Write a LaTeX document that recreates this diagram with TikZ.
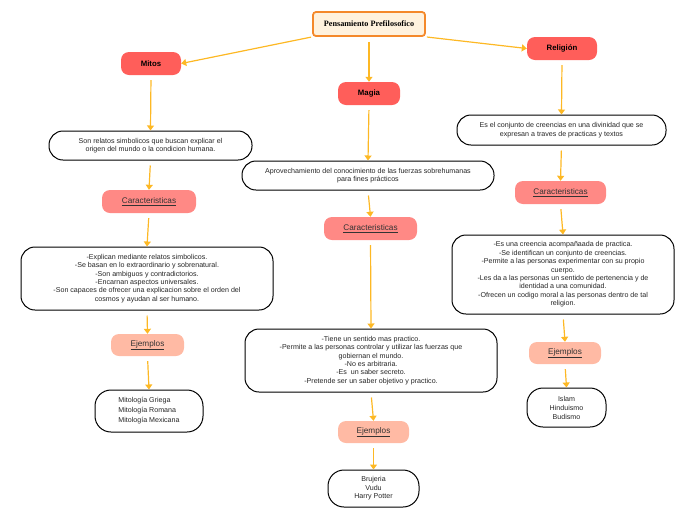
\documentclass[tikz,border=0pt]{standalone}
\usepackage{fontspec}
\setmainfont{Liberation Sans}
\newfontfamily\titlefont{Liberation Serif}
\usetikzlibrary{arrows.meta}

\definecolor{titlefill}{HTML}{FFF2DE}
\definecolor{titledraw}{HTML}{F4892B}
\definecolor{headred}{HTML}{FF5E5A}
\definecolor{caracred}{HTML}{FF8985}
\definecolor{ejempeach}{HTML}{FFBAA4}
\definecolor{linkgold}{HTML}{FDB824}

\begin{document}
\begin{tikzpicture}[x=1pt, y=-1pt,
  % main title box
  titlebox/.style={
    draw=titledraw, line width=1.8pt, fill=titlefill,
    rounded corners=3pt, minimum width=112pt, minimum height=24pt,
    inner sep=0pt, font=\titlefont\bfseries\fontsize{8.2}{9}\selectfont
  },
  % the three branches
  branch/.style={
    fill=headred, rounded corners=8pt, minimum height=23pt,
    inner sep=0pt, font=\bfseries\fontsize{7.8}{8}\selectfont
  },
  % Caracteristicas / Ejemplos labels
  caract/.style={
    fill=caracred, rounded corners=8pt, minimum height=23pt,
    inner sep=0pt, font=\fontsize{8.2}{9}\selectfont, text=black!80
  },
  ejemplo/.style={caract, fill=ejempeach, minimum height=22pt},
  % white text boxes
  infobox/.style={
    draw=black, line width=1pt, fill=white, rounded corners=14pt,
    inner sep=0pt, align=center, text=black!85,
    font=\fontsize{7.1}{8.4}\selectfont
  },
  link/.style={
    draw=linkgold, line width=1.2pt, shorten <=5pt,
    -{Triangle[length=5pt, width=7pt]}
  }
  ]
  \useasboundingbox (0,0) rectangle (696,520);

  % top
  \node (tit) [titlebox] at (369,24) {Pensamiento Prefilosofico};

  \node (mitos) [branch, minimum width=60pt] at (151,63.5) {Mitos};
  \node (magia) [branch, minimum width=62pt] at (369,93.5) {Magia};
  \node (relig) [branch, minimum width=70pt] at (562,48.5) {Religión};

  % Mitos column
  \node (mdesc) [infobox, minimum width=203pt, minimum height=29pt] at (150.5,145.5)
    {Son relatos simbolicos que buscan explicar el\\origen del mundo o la condicion humana.};
  \node (mcar) [caract, minimum width=94pt] at (149,201.5) {\underline{Caracteristicas}};
  \node (mlist) [infobox, minimum width=252pt, minimum height=63pt] at (147,278.5)
    {-Explican mediante relatos simbolicos.\\-Se basan en lo extraordinario y sobrenatural.\\-Son ambiguos y contradictorios.\\-Encarnan aspectos universales.\\-Son capaces de ofrecer una explicacion sobre el orden del\\cosmos y ayudan al ser humano.};
  \node (mej) [ejemplo, minimum width=73pt] at (147.5,345) {\underline{Ejemplos}};
  \node (mex) [infobox, minimum width=108pt, minimum height=42pt, rounded corners=16pt,
    align=left, font=\fontsize{7.1}{10}\selectfont] at (149,411)
    {Mitología Griega\\Mitología Romana\\Mitología Mexicana};

  % Magia column
  \node (gdesc) [infobox, minimum width=252pt, minimum height=29pt] at (368,175.5)
    {Aprovechamiento del conocimiento de las fuerzas sobrehumanas\\para fines prácticos};
  \node (gcar) [caract, minimum width=93pt] at (370.5,228.5) {\underline{Caracteristicas}};
  \node (glist) [infobox, minimum width=252pt, minimum height=63pt] at (371,360.5)
    {-Tiene un sentido mas practico.\\-Permite a las personas controlar y utilizar las fuerzas que\\gobiernan el mundo.\\-No es arbitraria.\\-Es\ \ un saber secreto.\\-Pretende ser un saber objetivo y practico.};
  \node (gej) [ejemplo, minimum width=71pt] at (373.5,432) {\underline{Ejemplos}};
  \node (gex) [infobox, minimum width=91pt, minimum height=37pt, rounded corners=16pt]
    at (373.5,488.5) {Brujeria\\Vudu\\Harry Potter};

  % Religion column
  \node (rdesc) [infobox, minimum width=209pt, minimum height=30pt] at (561.5,130)
    {Es el conjunto de creencias en una divinidad que se\\expresan a traves de practicas y textos};
  \node (rcar) [caract, minimum width=91pt] at (560.5,192.5) {\underline{Caracteristicas}};
  \node (rlist) [infobox, minimum width=222pt, minimum height=79pt] at (563,274.5)
    {-Es una creencia acompañaada de practica.\\-Se identifican un conjunto de creencias.\\-Permite a las personas experimentar con su propio\\cuerpo.\\-Les da a las personas un sentido de pertenencia y de\\identidad a una comunidad.\\-Ofrecen un codigo moral a las personas dentro de tal\\religion.};
  \node (rej) [ejemplo, minimum width=72pt] at (565,353) {\underline{Ejemplos}};
  \node (rex) [infobox, minimum width=79pt, minimum height=39pt, rounded corners=16pt,
    font=\fontsize{7.1}{9}\selectfont] at (566.5,407.5) {Islam\\Hinduismo\\Budismo};

  % links from the title
  \draw [link, shorten <=1pt] (tit.south west) -- (mitos.east);
  \draw [link] (tit.south) -- (magia.north);
  \draw [link, shorten <=1pt] (tit.south east) -- (relig.west);

  % links down each column
  \draw [link] (mitos.south) -- (mdesc.north);
  \draw [link] (mdesc.south) -- (mcar.north);
  \draw [link] (mcar.south) -- (mlist.north);
  \draw [link] (mlist.south) -- (mej.north);
  \draw [link] (mej.south) -- (mex.north);

  \draw [link] (magia.south) -- (gdesc.north);
  \draw [link] (gdesc.south) -- (gcar.north);
  \draw [link] (gcar.south) -- (glist.north);
  \draw [link] (glist.south) -- (gej.north);
  \draw [link] (gej.south) -- (gex.north);

  \draw [link] (relig.south) -- (rdesc.north);
  \draw [link] (rdesc.south) -- (rcar.north);
  \draw [link] (rcar.south) -- (rlist.north);
  \draw [link] (rlist.south) -- (rej.north);
  \draw [link] (rej.south) -- (rex.north);

\end{tikzpicture}
\end{document}
